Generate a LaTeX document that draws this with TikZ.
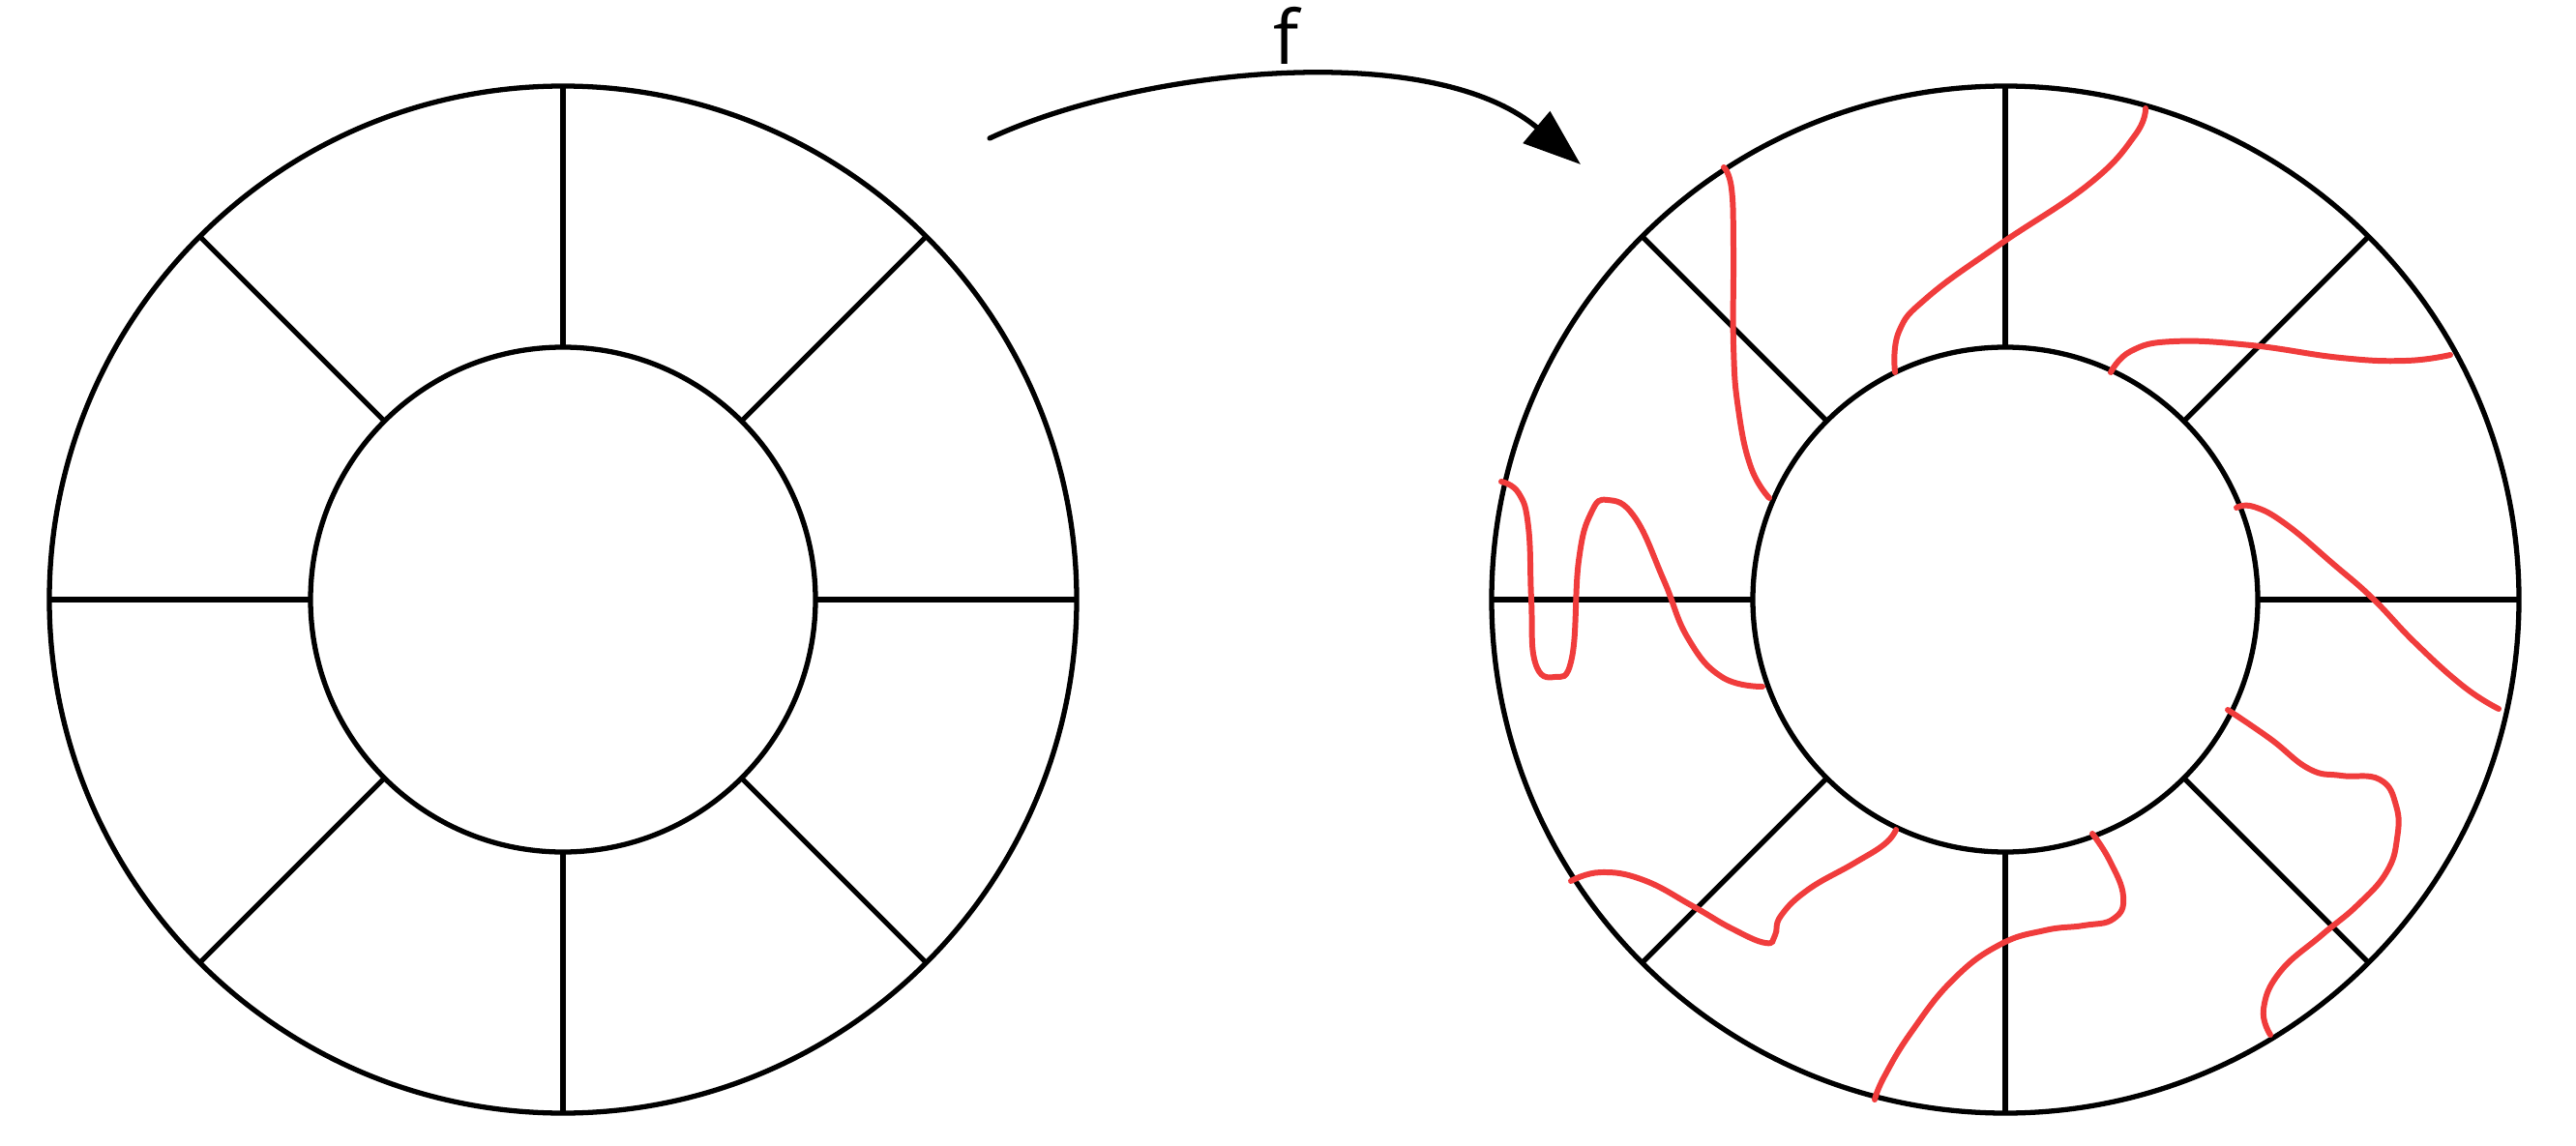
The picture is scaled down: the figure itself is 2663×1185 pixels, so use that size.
\documentclass[tikz,border=0pt]{standalone}
\usepackage{fontspec}
\setmainfont{Open Sans}
\usetikzlibrary{calc,arrows.meta}
\begin{document}
\begin{tikzpicture}[x=0.01cm,y=-0.01cm,
  ring/.style={line width=1.5pt,black},
  red/.style={line width=1.7pt,color={rgb,255:red,240;green,60;blue,60},smooth,tension=0.75,line cap=round}]
\useasboundingbox (0,0) rectangle (2663,1185);
\foreach \cx/\nm in {582/L,2073/R}{
  \coordinate (c\nm) at (\cx,620);
  \draw[ring] (c\nm) circle[radius=531];
  \draw[ring] (c\nm) circle[radius=261];
  \foreach \a in {0,45,...,315}
    \draw[ring] ($(c\nm)+(\a:261)$) -- ($(c\nm)+(\a:531)$);
}
\coordinate (as) at (1023,143);
\coordinate (ae) at (1634,170);
\draw[line width=1.5pt,line cap=round,-{Triangle[length=17pt,width=12pt]}] (as) .. controls (1180,70) and (1480,40) .. (ae);
\node[font=\fontsize{22}{22}\selectfont,anchor=base] (f) at (1330,67) {f};
\draw[red] plot coordinates {(1782,173)(1790,195)(1792,257)(1792,357)(1797,423)(1810,483)(1829,515)};
\draw[red] plot coordinates {(2218,112)(2207,140)(2160,190)(2067,253)(1993,307)(1963,343)(1959,385)};
\draw[red] plot coordinates {(2182,385)(2203,363)(2247,353)(2327,357)(2420,370)(2487,373)(2533,367)};
\draw[red] plot coordinates {(1552,498)(1570,510)(1580,545)(1583,620)(1587,685)(1607,700)(1625,680)(1632,580)(1645,530)(1662,517)(1690,535)(1720,600)(1745,660)(1780,700)(1822,710)};
\draw[red] plot coordinates {(2312,525)(2330,524)(2363,542)(2413,584)(2453,619)(2497,665)(2547,710)(2583,733)};
\draw[red] plot coordinates {(2303,734)(2347,764)(2387,795)(2420,802)(2460,806)(2477,833)(2478,867)(2467,902)(2437,936)(2400,967)(2357,1005)(2340,1043)(2347,1070)};
\draw[red] plot coordinates {(2163,862)(2181,890)(2195,927)(2185,950)(2154,957)(2114,962)(2067,977)(2019,1013)(1976,1067)(1948,1113)(1938,1137)};
\draw[red] plot coordinates {(1624,911)(1655,902)(1699,910)(1750,937)(1790,960)(1825,975)(1835,967)(1841,947)(1869,920)(1916,893)(1948,873)(1960,858)};
\end{tikzpicture}
\end{document}
